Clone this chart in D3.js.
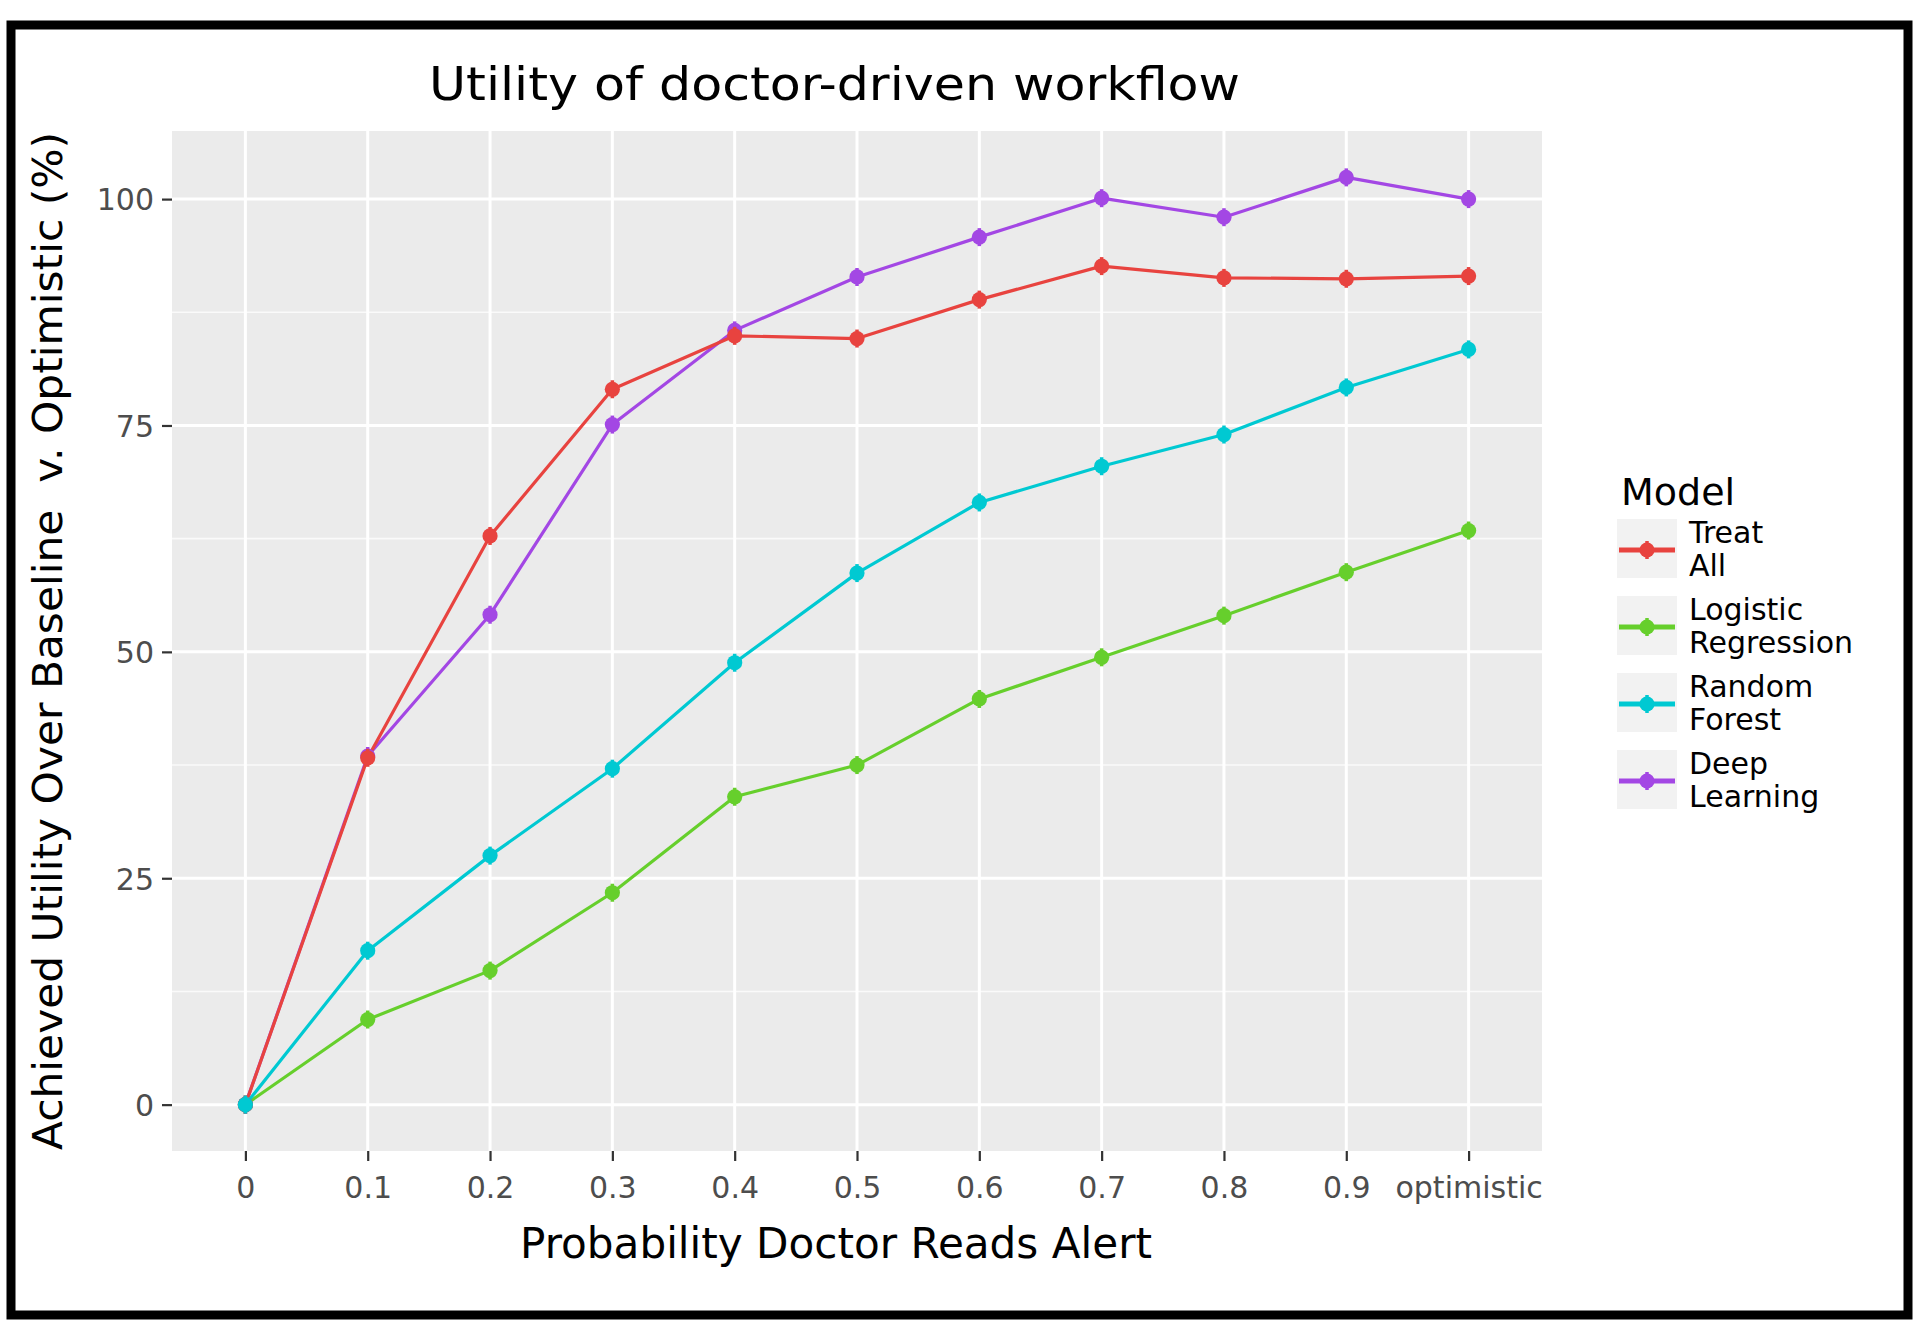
<!DOCTYPE html>
<html>
<head>
<meta charset="utf-8">
<title>Utility of doctor-driven workflow</title>
<script src="https://d3js.org/d3.v7.min.js"></script>
<style>
    body { margin: 0; background: white; }
    text { font-family: "DejaVu Sans", sans-serif; }
</style>
</head>
<body>
<div id="chart"></div>
<script>
    // x categories (probability that the doctor reads the alert)
    var categories = ["0", "0.1", "0.2", "0.3", "0.4", "0.5", "0.6", "0.7", "0.8", "0.9", "optimistic"];

    // values, % of optimistic utility
    var treatAll           = [0, 38.3, 62.8, 79.0, 84.9, 84.6, 88.9, 92.6, 91.3, 91.2, 91.5];
    var logisticRegression = [0,  9.4, 14.8, 23.4, 34.0, 37.5, 44.8, 49.4, 54.0, 58.8, 63.4];
    var randomForest       = [0, 17.0, 27.5, 37.1, 48.8, 58.7, 66.5, 70.5, 74.0, 79.2, 83.4];
    var deepLearning       = [0, 38.5, 54.1, 75.1, 85.5, 91.4, 95.8, 100.1, 98.0, 102.4, 100.0];

    var seriesNames = ["Treat All", "Logistic Regression", "Random Forest", "Deep Learning"];
    var legendLabels = [["Treat", "All"], ["Logistic", "Regression"], ["Random", "Forest"], ["Deep", "Learning"]];
    var yTicks = [0, 25, 50, 75, 100];
    var colors = ["#e8433f", "#66cf2c", "#00c9d2", "#a347e4"];

    var series = [
        {name: seriesNames[0], values: treatAll, color: colors[0]},
        {name: seriesNames[1], values: logisticRegression, color: colors[1]},
        {name: seriesNames[2], values: randomForest, color: colors[2]},
        {name: seriesNames[3], values: deepLearning, color: colors[3]}
    ];
    // drawing order: purple over red, cyan last
    var drawOrder = [1, 3, 0, 2];

    var width = 1920, height = 1326;
    var panel = {left: 172, right: 1542, top: 131, bottom: 1151};

    var svg = d3.select("#chart").append("svg")
        .attr("width", width)
        .attr("height", height)
        .style("display", "block")
        .style("background", "white");

    // outer frame
    svg.append("rect")
        .attr("x", 11).attr("y", 25)
        .attr("width", 1897).attr("height", 1290)
        .attr("fill", "none")
        .attr("stroke", "#000")
        .attr("stroke-width", 9);

    var x = d3.scalePoint()
        .domain(categories)
        .range([panel.left, panel.right])
        .padding(0.6);

    var allVals = [].concat(treatAll, logisticRegression, randomForest, deepLearning);
    var lo = d3.min(allVals), hi = d3.max(allVals);
    var pad = (hi - lo) * 0.05;
    var y = d3.scaleLinear()
        .domain([lo - pad, hi + pad])
        .range([panel.bottom, panel.top]);

    // panel background
    svg.append("rect")
        .attr("x", panel.left).attr("y", panel.top)
        .attr("width", panel.right - panel.left)
        .attr("height", panel.bottom - panel.top)
        .attr("fill", "#ebebeb");

    var grid = svg.append("g");
    var minor = [];
    for (var i = 0; i < yTicks.length - 1; ++i)
        minor.push((yTicks[i] + yTicks[i + 1]) / 2);
    grid.selectAll(".minor").data(minor).enter().append("line")
        .attr("x1", panel.left).attr("x2", panel.right)
        .attr("y1", function(d){ return y(d); })
        .attr("y2", function(d){ return y(d); })
        .attr("stroke", "#fafafa").attr("stroke-width", 1.6);
    grid.selectAll(".major").data(yTicks).enter().append("line")
        .attr("x1", panel.left).attr("x2", panel.right)
        .attr("y1", function(d){ return y(d); })
        .attr("y2", function(d){ return y(d); })
        .attr("stroke", "#fff").attr("stroke-width", 3);
    grid.selectAll(".vert").data(categories).enter().append("line")
        .attr("y1", panel.top).attr("y2", panel.bottom)
        .attr("x1", function(d){ return x(d); })
        .attr("x2", function(d){ return x(d); })
        .attr("stroke", "#fff").attr("stroke-width", 3);

    // axes
    var xAxis = svg.append("g")
        .attr("transform", "translate(0," + panel.bottom + ")")
        .call(d3.axisBottom(x).tickSize(10).tickPadding(8));
    var yAxis = svg.append("g")
        .attr("transform", "translate(" + panel.left + ",0)")
        .call(d3.axisLeft(y).tickValues(yTicks).tickSize(10).tickPadding(8));
    [xAxis, yAxis].forEach(function(ax){
        ax.select(".domain").remove();
        ax.selectAll(".tick line").attr("stroke", "#333").attr("stroke-width", 2.2);
        ax.selectAll(".tick text")
            .attr("fill", "#4d4d4d")
            .style("font-size", "30px")
            .style("font-family", "'DejaVu Sans', sans-serif");
    });
    xAxis.selectAll(".tick text").attr("dy", "0.95em");
    yAxis.selectAll(".tick text").attr("dy", "0.36em");

    // lines and points
    var line = d3.line()
        .x(function(d, i){ return x(categories[i]); })
        .y(function(d){ return y(d); });

    drawOrder.forEach(function(k){
        var s = series[k];
        svg.append("path")
            .attr("d", line(s.values))
            .attr("fill", "none")
            .attr("stroke", s.color)
            .attr("stroke-width", 3.2)
            .attr("stroke-linejoin", "round");
    });
    drawOrder.forEach(function(k){
        var s = series[k];
        var g = svg.append("g");
        g.selectAll("line").data(s.values).enter().append("line")
            .attr("x1", function(d, i){ return x(categories[i]); })
            .attr("x2", function(d, i){ return x(categories[i]); })
            .attr("y1", function(d){ return y(d) - 9; })
            .attr("y2", function(d){ return y(d) + 9; })
            .attr("stroke", s.color).attr("stroke-width", 3.5);
        g.selectAll("circle").data(s.values).enter().append("circle")
            .attr("cx", function(d, i){ return x(categories[i]); })
            .attr("cy", function(d){ return y(d); })
            .attr("r", 7.6)
            .attr("fill", s.color);
    });

    // titles
    svg.append("text")
        .attr("x", 429).attr("y", 100)
        .attr("textLength", 811).attr("lengthAdjust", "spacingAndGlyphs")
        .style("font-size", "47px").attr("fill", "#000")
        .text("Utility of doctor-driven workflow");

    svg.append("text")
        .attr("x", 520).attr("y", 1258)
        .attr("textLength", 632).attr("lengthAdjust", "spacingAndGlyphs")
        .style("font-size", "42px").attr("fill", "#000")
        .text("Probability Doctor Reads Alert");

    svg.append("text")
        .attr("transform", "translate(62,1150) rotate(-90)")
        .attr("textLength", 1018).attr("lengthAdjust", "spacingAndGlyphs")
        .style("font-size", "40px").style("white-space", "pre").attr("fill", "#000")
        .text("Achieved Utility Over Baseline  v. Optimistic (%)");

    // legend
    var legend = svg.append("g").attr("transform", "translate(1617,0)");
    legend.append("text")
        .attr("x", 4).attr("y", 505)
        .style("font-size", "38px").attr("fill", "#000")
        .text("Model");

    series.forEach(function(s, k){
        var top = 519 + k * 77;
        var key = legend.append("g");
        key.append("rect")
            .attr("x", 0).attr("y", top)
            .attr("width", 60).attr("height", 59)
            .attr("fill", "#f2f2f2");
        key.append("line")
            .attr("x1", 2).attr("x2", 58)
            .attr("y1", top + 31).attr("y2", top + 31)
            .attr("stroke", s.color).attr("stroke-width", 5);
        key.append("line")
            .attr("x1", 30).attr("x2", 30)
            .attr("y1", top + 22).attr("y2", top + 40)
            .attr("stroke", s.color).attr("stroke-width", 3.5);
        key.append("circle")
            .attr("cx", 30).attr("cy", top + 31).attr("r", 7.6)
            .attr("fill", s.color);
        legendLabels[k].forEach(function(t, j){
            key.append("text")
                .attr("x", 72).attr("y", top + 24 + j * 33)
                .style("font-size", "30px").attr("fill", "#000")
                .text(t);
        });
    });
</script>
</body>
</html>
